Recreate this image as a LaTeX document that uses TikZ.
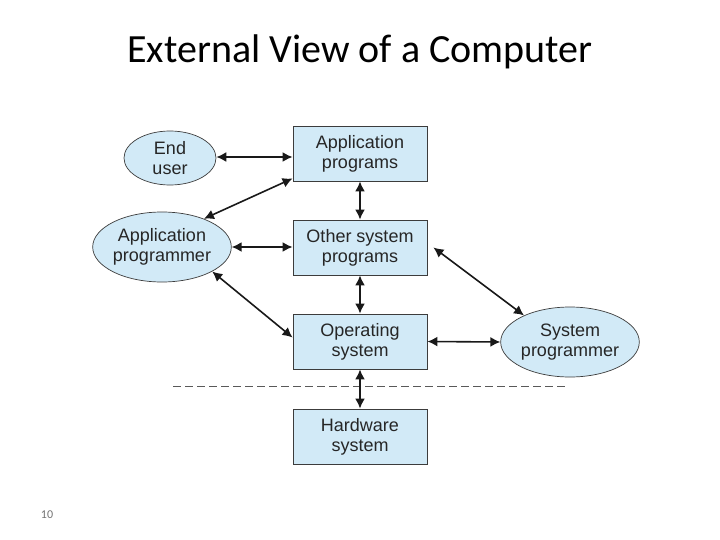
\documentclass[tikz,border=0pt]{standalone}
\usepackage{fontspec}
\setmainfont{Liberation Sans}
\newfontfamily\titlefont{Carlito}
\usetikzlibrary{shapes.geometric,arrows.meta}
\definecolor{boxfill}{RGB}{210,234,247}
\definecolor{edgegray}{RGB}{60,60,60}
\tikzset{
  sysbox/.style={draw=edgegray, line width=0.9pt, fill=boxfill, minimum width=134pt, minimum height=55pt, inner sep=0pt, align=center, font=\fontsize{18}{20}\selectfont, text=black!85},
  person/.style={ellipse, draw=edgegray, line width=0.7pt, fill=boxfill, inner sep=0pt, align=center, font=\fontsize{18}{20}\selectfont, text=black!85},
  link/.style={line width=1.6pt, black!90, {Latex[length=10pt,width=10pt]}-{Latex[length=10pt,width=10pt]}}
}
\begin{document}
\begin{tikzpicture}[x=1pt,y=-1pt]
\useasboundingbox (0,0) rectangle (720,540);
\node[font=\titlefont\fontsize{40}{44}\selectfont, anchor=base] (title) at (360,63) {External View of a Computer};
\node[font=\titlefont\fontsize{12}{14}\selectfont, text=black!55] (pg) at (47,515) {10};

\node[sysbox] (apps) at (360,153.5) {Application\\programs};
\node[sysbox] (osp) at (360,247.5) {Other system\\programs};
\node[sysbox] (os) at (360,341.5) {Operating\\system};
\node[sysbox] (hw) at (360,436.5) {Hardware\\system};

\node[person, minimum width=92pt, minimum height=54pt] (eu) at (170,158) {End\\user};
\node[person, minimum width=120pt, minimum height=70pt] (ap) at (162,247) {Application\\programmer};
\node[person, minimum width=121pt, minimum height=70pt] (sp) at (570,342) {System\\programmer};

\coordinate (dl) at (173,386.5);
\coordinate (dr) at (567,386.5);
\draw[dash pattern=on 8pt off 4pt, black!65, line width=0.9pt] (dl) -- (dr);

\draw[link] ([yshift=1pt]eu.east) -- ([yshift=1pt]eu.east -| apps.west);
\draw[link] (ap.34) -- ([yshift=3pt]apps.south west);
\draw[link] (ap.east) -- (ap.east -| osp.west);
\draw[link] (ap.-26) -- ([yshift=4pt]os.west);
\draw[link] (apps.south) -- (osp.north);
\draw[link] (osp.south) -- (os.north);
\draw[link] (os.south) -- (hw.north);
\draw[link] ([xshift=6pt]osp.east) -- (sp.150);
\draw[link] (os.east) -- (sp.west);
\end{tikzpicture}
\end{document}
